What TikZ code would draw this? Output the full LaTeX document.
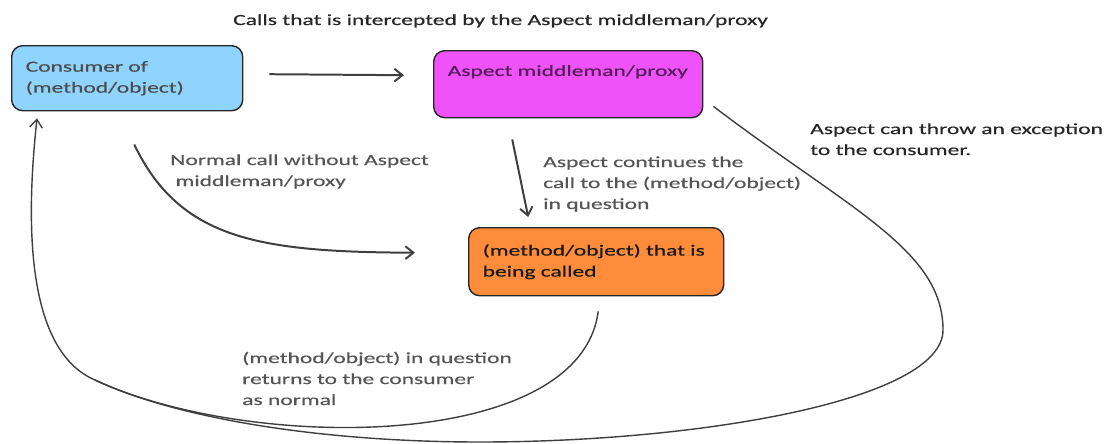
\documentclass[tikz,border=0pt]{standalone}
\usepackage{fontspec}
\setmainfont[FakeStretch=1.52, FakeBold=0.4]{Carlito}
\usetikzlibrary{arrows.meta,calc}

\definecolor{consumerblue}{HTML}{8ED4FF}
\definecolor{proxymagenta}{HTML}{F052FA}
\definecolor{targetorange}{HTML}{FF8C3A}
\definecolor{linegray}{HTML}{3F3F3F}
\definecolor{labelgray}{HTML}{555555}

\tikzset{
  box/.style={draw=black!85, line width=1.2pt, rounded corners=0.33cm, anchor=north west,
    align=left, inner xsep=0.42cm, inner ysep=0pt},
  lbl/.style={anchor=base west, align=left, inner sep=0pt, text=labelgray},
  call/.style={draw=linegray, line width=1.7pt, -{Straight Barb[length=2.4mm,width=3.8mm]}},
  curve/.style={draw=linegray, line width=1.2pt},
}

\begin{document}
\begin{tikzpicture}[x=0.03cm, y=-0.03cm, every node/.style={font=\fontsize{13.2}{17.9}\selectfont}]
    \useasboundingbox (0,0) rectangle (1110,443);

    % Boxes
    \node[box, fill=consumerblue, text=black!70, text width=6.09cm, minimum height=1.95cm] (consumer) at (11,45)
      {Consumer of\\(method/object)};
    \node[box, fill=proxymagenta, text=black!65!proxymagenta, text width=7.23cm, minimum height=2.01cm] (proxy) at (433,50)
      {Aspect middleman/proxy\\\strut};
    \node[box, fill=targetorange, text=black!90, text width=6.81cm, minimum height=2.04cm] (target) at (468,227)
      {(method/object) that is\\being called};

    % Labels (anchored at the last line)
    \node[lbl, text=black!85] (title) at (233,25) {Calls that is intercepted by the Aspect middleman/proxy};
    \node[lbl] (lblnormal) at (170,186) {Normal call without Aspect\\\ middleman/proxy};
    \node[lbl] (lblcontinue) at (543,209) {Aspect continues the\\call to the (method/object)\\in question};
    \node[lbl, text=black!85] (lblthrow) at (810,155) {Aspect can throw an exception\\to the consumer.};
    \node[lbl] (lblreturn) at (242,405) {(method/object) in question\\returns to the consumer\\as normal};

    % Calls
    \draw[call] ($(consumer.east)+(26,-4)$) -- ($(proxy.west)+(-29,-9)$); % intercepted call
    \draw[call] ($(proxy.south)+(-56,21)$) -- ($(target.north)+(-68,-10)$); % call continues
    \draw[call] ($(consumer.south)+(7,33)$) .. controls (180,240) and (260,252) .. ($(target.west)+(-53,-9)$); % normal call

    % Returns
    \coordinate (join) at (95,380);
    \draw[curve, -{Straight Barb[length=2.4mm,width=3.8mm]}] ($(target.south)+(2,15)$)
      .. controls (580,452) and (250,452) .. (join)
      .. controls (25,350) and (26,220) .. ($(consumer.south west)+(26,7)$); % return as normal
    \draw[curve] ($(proxy.south east)+(10,-12)$) .. controls (850,210) and (943,250) .. (943,330)
      .. controls (943,400) and (700,442) .. (480,442)
      .. controls (320,442) and (175,418) .. (join); % exception
  \end{tikzpicture}
\end{document}
